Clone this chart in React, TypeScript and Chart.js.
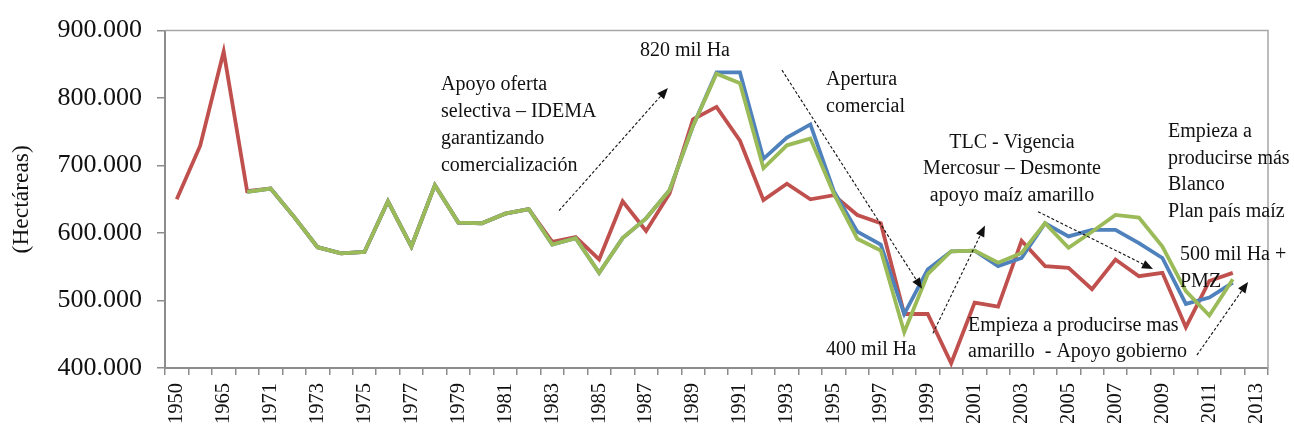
import React, { useEffect, useRef } from "react";
import { Chart, registerables } from "chart.js";

Chart.register(...registerables);

const years = [
  "1950", "1960", "1965", "1970", "1971", "1972", "1973", "1974", "1975", "1976",
  "1977", "1978", "1979", "1980", "1981", "1982", "1983", "1984", "1985", "1986",
  "1987", "1988", "1989", "1990", "1991", "1992", "1993", "1994", "1995", "1996",
  "1997", "1998", "1999", "2000", "2001", "2002", "2003", "2004", "2005", "2006",
  "2007", "2008", "2009", "2010", "2011", "2012", "2013",
];

const redSeries = [
  650000, 729500, 868800, 662000, 666000, 624000, 579000, 570000, 572000, 647000,
  580000, 671000, 615500, 614500, 628700, 635600, 587000, 594000, 560800, 647000,
  603000, 658500, 768500, 787000, 736800, 648800, 673000, 650000, 656000, 626800,
  614500, 480000, 480000, 407000, 497000, 491000, 588600, 551000, 548500, 516800,
  560800, 536000, 541000, 460500, 529000, 541000, null,
];

const blueSeries = [
  null, null, null, 661000, 666000, 624000, 579000, 570000, 572000, 647000,
  580000, 671000, 615500, 614500, 628700, 635600, 582800, 592500, 541000, 592500,
  621800, 663500, 758800, 838000, 838000, 710000, 741600, 761000, 662000, 602000,
  582800, 480000, 546000, 573000, 574000, 551000, 563000, 614500, 595000, 604800,
  604800, 585000, 563000, 495000, 504500, 526500, null,
];

const greenSeries = [
  null, null, null, 661000, 666000, 624000, 579000, 570000, 572000, 647000,
  580000, 671000, 615500, 614500, 628700, 635600, 582800, 592500, 541000, 592500,
  621800, 663500, 758800, 836000, 822000, 696000, 730000, 740000, 658500, 591600,
  574000, 453000, 539000, 573000, 574000, 556000, 570500, 614500, 578000, 602000,
  626800, 622900, 580000, 514000, 477700, 531500, null,
];

const yTicks = [400000, 500000, 600000, 700000, 800000, 900000];

// Annotation texts, anchored in data units (category index, value)
const noteTexts = [
  { lines: ["820 mil Ha"], x: 19.74, y: 870700, align: "left" },
  { lines: ["Apoyo oferta", "selectiva \u2013 IDEMA", "garantizando", "comercialización"], x: 11.26, y: 819400, align: "left" },
  { lines: ["Apertura", "comercial"], x: 27.67, y: 826700, align: "left" },
  { lines: ["400 mil Ha"], x: 27.67, y: 426400, align: "left" },
  { lines: ["TLC - Vigencia", "Mercosur \u2013 Desmonte", "apoyo maíz amarillo"], x: 35.59, y: 734300, align: "center" },
  { lines: ["Empieza a", "producirse más", "Blanco", "Plan país maíz"], x: 42.24, y: 750400, align: "left" },
  { lines: ["500 mil Ha +", "PMZ"], x: 42.75, y: 567200, align: "left" },
  { lines: ["Empieza a producirse mas", "amarillo  - Apoyo gobierno"], x: 33.72, y: 463100, align: "left" },
];

const noteArrows = [
  { x1: 16.29, y1: 633100, x2: 20.93, y2: 815000 },
  { x1: 25.79, y1: 841400, x2: 31.76, y2: 517300 },
  { x1: 36.7, y1: 631700, x2: 41.6, y2: 546600 },
  { x1: 43.47, y1: 419100, x2: 45.65, y2: 527600 },
  { x1: 32.22, y1: 451300, x2: 34.44, y2: 611100 },
];

const SERIF = "'Liberation Serif', 'Times New Roman', serif";

const notesPlugin = {
  id: "notesPlugin",
  beforeDatasetsDraw(chart: any) {
    const { ctx, chartArea } = chart;
    ctx.save();
    ctx.strokeStyle = "#a6a6a6";
    ctx.lineWidth = 1.5;
    ctx.beginPath();
    ctx.moveTo(chartArea.left, chartArea.top);
    ctx.lineTo(chartArea.right, chartArea.top);
    ctx.lineTo(chartArea.right, chartArea.bottom);
    ctx.stroke();
    ctx.restore();
  },
  afterDatasetsDraw(chart: any) {
    const { ctx } = chart;
    const xs = chart.scales.x;
    const ys = chart.scales.y;
    ctx.save();
    ctx.fillStyle = "#111";
    ctx.font = `20px ${SERIF}`;
    ctx.textBaseline = "middle";
    const lh = 26.8;
    noteTexts.forEach((n) => {
      const px = xs.getPixelForValue(n.x);
      const py = ys.getPixelForValue(n.y);
      ctx.textAlign = n.align;
      n.lines.forEach((l, i) => ctx.fillText(l, px, py + i * lh));
    });
    noteArrows.forEach((a) => {
      const x1 = xs.getPixelForValue(a.x1);
      const y1 = ys.getPixelForValue(a.y1);
      const x2 = xs.getPixelForValue(a.x2);
      const y2 = ys.getPixelForValue(a.y2);
      const ang = Math.atan2(y2 - y1, x2 - x1);
      const hl = 11;
      const hw = 4.5;
      const bx = x2 - hl * Math.cos(ang);
      const by = y2 - hl * Math.sin(ang);
      ctx.strokeStyle = "#111";
      ctx.lineWidth = 1.1;
      ctx.setLineDash([3, 2]);
      ctx.beginPath();
      ctx.moveTo(x1, y1);
      ctx.lineTo(bx, by);
      ctx.stroke();
      ctx.setLineDash([]);
      ctx.beginPath();
      ctx.moveTo(x2, y2);
      ctx.lineTo(bx + hw * Math.sin(ang), by - hw * Math.cos(ang));
      ctx.lineTo(bx - hw * Math.sin(ang), by + hw * Math.cos(ang));
      ctx.closePath();
      ctx.fillStyle = "#111";
      ctx.fill();
    });
    ctx.restore();
  },
};

function fmt(v: number) {
  const s = Math.round(v).toString();
  return s.replace(/\B(?=(\d{3})+(?!\d))/g, ".");
}

export default function App() {
  const ref = useRef<HTMLCanvasElement>(null);
  useEffect(() => {
    document.body.style.margin = "0";
    const chart = new Chart(ref.current as HTMLCanvasElement, {
      type: "line",
      data: {
        labels: years,
        datasets: [
          { label: "Verde", data: greenSeries, borderColor: "#9BBB59", borderWidth: 3.8, pointRadius: 0, tension: 0, spanGaps: false },
          { label: "Azul", data: blueSeries, borderColor: "#4F81BD", borderWidth: 3.8, pointRadius: 0, tension: 0, spanGaps: false },
          { label: "Rojo", data: redSeries, borderColor: "#C0504D", borderWidth: 3.8, pointRadius: 0, tension: 0, spanGaps: false },
        ],
      },
      options: {
        animation: false,
        responsive: false,
        layout: { padding: { top: 27, right: 26, left: 0, bottom: 0 } },
        plugins: { legend: { display: false }, tooltip: { enabled: false } },
        scales: {
          x: {
            offset: true,
            grid: { offset: true, drawOnChartArea: false, drawTicks: true, tickLength: 7, color: "#8c8c8c", lineWidth: 1.5 },
            border: { color: "#8c8c8c", width: 2 },
            ticks: {
              autoSkip: false,
              maxRotation: 90,
              minRotation: 90,
              padding: 8,
              color: "#111",
              font: { family: SERIF, size: 20.5 },
              callback: (_v: any, i: number) => (i % 2 === 0 ? years[i] : ""),
            },
            afterFit: (s: any) => { s.height = 64; },
          },
          y: {
            min: 400000,
            max: 900000,
            afterBuildTicks: (s: any) => { s.ticks = yTicks.map((v) => ({ value: v })); },
            grid: { drawOnChartArea: false, drawTicks: true, tickLength: 8, color: "#8c8c8c", lineWidth: 1.5 },
            border: { color: "#8c8c8c", width: 2 },
            ticks: { padding: 15, color: "#111", font: { family: SERIF, size: 26 }, callback: (v: any) => fmt(Number(v)) },
            title: { display: true, text: "(Hectáreas)", color: "#111", font: { family: SERIF, size: 23.5 }, padding: { top: 8, bottom: 0 } },
            afterFit: (s: any) => { s.width = 165; },
          },
        },
      },
      plugins: [notesPlugin],
    } as any);
    return () => chart.destroy();
  }, []);
  return (
    <div style={{ position: "absolute", left: 0, top: 0, width: 1294, height: 432, background: "#fff" }}>
      <canvas ref={ref} width={1294} height={432} />
    </div>
  );
}
